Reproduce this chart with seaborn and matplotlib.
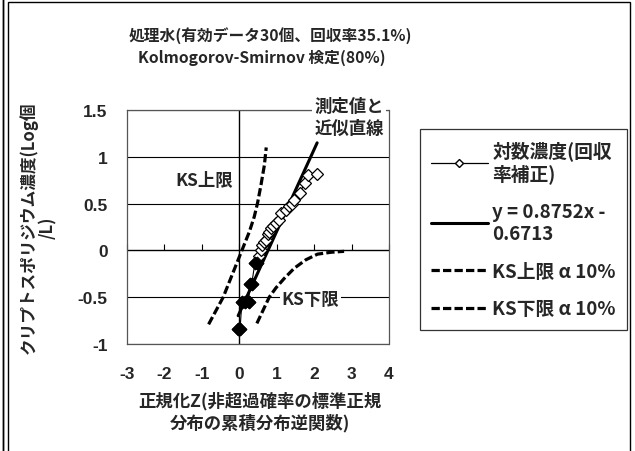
import numpy as np
import pandas as pd
import matplotlib
matplotlib.use("Agg")
import matplotlib.pyplot as plt
import seaborn as sns
from matplotlib.lines import Line2D
from matplotlib.patches import Rectangle

# ---------------- data ----------------
z_data = [-0.03, 0.00, 0.02, 0.07, 0.15, 0.25, 0.28, 0.33, 0.42, 0.47,
          0.52, 0.58, 0.62, 0.67, 0.71, 0.76, 0.80, 0.85, 0.89, 0.98,
          1.05, 1.12, 1.25, 1.34, 1.40, 1.47, 1.61, 1.75, 1.83, 2.08]
log_conc = [-0.84, -0.84, -0.84, -0.55, -0.55, -0.55, -0.36, -0.36, -0.13, -0.13,
            -0.06, 0.00, 0.06, 0.09, 0.11, 0.17, 0.20, 0.24, 0.26, 0.29,
            0.33, 0.40, 0.43, 0.47, 0.50, 0.54, 0.61, 0.72, 0.81, 0.82]
trend_slope = 0.8752
trend_intercept = -0.6713
ks_upper_z = [-0.82, -0.43, 0.07, 0.27, 0.40, 0.49, 0.58, 0.67, 0.72]
ks_upper_y = [-0.79, -0.50, 0.00, 0.20, 0.36, 0.51, 0.70, 0.91, 1.10]
ks_lower_z = [0.47, 0.80, 0.98, 1.20, 1.47, 1.78, 2.09, 2.45, 2.80]
ks_lower_y = [-0.78, -0.50, -0.40, -0.30, -0.19, -0.10, -0.04, -0.02, -0.01]
x_ticks = [-3, -2, -1, 0, 1, 2, 3, 4]
x_tick_labels = ["-3", "-2", "-1", "0", "1", "2", "3", "4"]
y_ticks = [-1, -0.5, 0, 0.5, 1, 1.5]
y_tick_labels = ["-1", "-0.5", "0", "0.5", "1", "1.5"]
legend_labels = ["対数濃度(回収\n率補正)", "y = 0.8752x -\n0.6713",
                 "KS上限 α 10%", "KS下限 α 10%"]
title_1 = "処理水(有効データ30個、回収率35.1%)"
title_2 = "Kolmogorov-Smirnov 検定(80%)"
x_label = "正規化Z(非超過確率の標準正規\n分布の累積分布逆関数)"
y_label = "クリプトスポリジウム濃度(Log個\n/L)"

# ---------------- style ----------------
sns.set_theme(style="white")
plt.rcParams["font.family"] = ["Noto Sans CJK JP", "DejaVu Sans"]
plt.rcParams["axes.unicode_minus"] = False

W, H = 635, 452
fig = plt.figure(figsize=(W / 100, H / 100), dpi=100)
fig.patch.set_facecolor("white")
ax = fig.add_axes([127 / W, 1 - 345 / H, 262 / W, 234 / H])
ax.set_facecolor("white")

df = pd.DataFrame({"z": z_data, "y": log_conc})
trend_x = np.array([min(z_data), max(z_data)])
df_trend = pd.DataFrame({"z": trend_x, "y": trend_slope * trend_x + trend_intercept})
df_up = pd.DataFrame({"z": ks_upper_z, "y": ks_upper_y})
df_lo = pd.DataFrame({"z": ks_lower_z, "y": ks_lower_y})

dash = (0, (2.6, 1.0))
# gridlines / axes
for yv in y_ticks:
    if yv != 0:
        ax.axhline(yv, color="black", lw=0.8, zorder=1)
ax.axhline(0, color="black", lw=1.0, zorder=1)
ax.axvline(0, color="black", lw=1.0, zorder=1)

sns.lineplot(data=df_up, x="z", y="y", ax=ax, color="black", lw=2.3,
             linestyle=dash, sort=False, zorder=3)
sns.lineplot(data=df_lo, x="z", y="y", ax=ax, color="black", lw=2.3,
             linestyle=dash, sort=False, zorder=3)
sns.lineplot(data=df_trend, x="z", y="y", ax=ax, color="black", lw=2.2,
             sort=False, zorder=4)
sns.lineplot(data=df, x="z", y="y", ax=ax, color="black", lw=0.8,
             sort=False, marker="D", markersize=6.3, markerfacecolor="white",
             markeredgecolor="black", markeredgewidth=0.9, zorder=5)
low = df[df["y"] < -0.1]
sns.scatterplot(data=low, x="z", y="y", ax=ax, marker="D", s=45,
                color="black", edgecolor="black", zorder=6)

ax.set_xlim(-3, 4)
ax.set_ylim(-1, 1.5)
ax.set_xticks(x_ticks)
ax.set_xticklabels(x_tick_labels)
ax.set_yticks(y_ticks)
ax.set_yticklabels(y_tick_labels)
ax.tick_params(axis="both", length=0, labelsize=12.5)
ax.tick_params(axis="y", pad=14)
ax.tick_params(axis="x", pad=16)
ax.set_xlabel("")
ax.set_ylabel("")
for lab in ax.get_xticklabels() + ax.get_yticklabels():
    lab.set_fontweight("bold")
    lab.set_fontfamily(["Liberation Sans", "DejaVu Sans"])
    lab.set_fontsize(12.5)

# small tick marks on the y=0 axis line
yfrac = (0 - (-1)) / (1.5 - (-1))
sec = ax.secondary_xaxis(yfrac)
sec.set_xticks(x_ticks)
sec.tick_params(axis="x", direction="in", length=4, width=0.8, color="black",
                labeltop=False, labelbottom=False)
sec.spines[:].set_visible(False)

for sp in ax.spines.values():
    sp.set_visible(True)
    sp.set_color("#555555")
    sp.set_linewidth(0.9)
    sp.set_linestyle((0, (2, 1)))

# in-plot annotations
bb = dict(facecolor="white", edgecolor="none", pad=1.5)
ax.text(0.847, 0.97, "測定値と\n近似直線", transform=ax.transAxes, ha="center",
        va="center", fontsize=12.5, fontweight="bold", bbox=bb, clip_on=False,
        zorder=8, linespacing=1.25)
ax.text(0.294, 0.70, "KS上限", transform=ax.transAxes, ha="center", va="center",
        fontsize=12.5, fontweight="bold", zorder=8)
ax.text(0.70, 0.192, "KS下限", transform=ax.transAxes, ha="center", va="center",
        fontsize=12.5, fontweight="bold", bbox=bb, zorder=8)

# titles and labels
fig.text(270 / W, 1 - 36 / H, title_1, ha="center", va="center",
         fontsize=11.3, fontweight="bold")
fig.text(262 / W, 1 - 58 / H, title_2, ha="center", va="center",
         fontsize=11.3, fontweight="bold")
fig.text(260 / W, 1 - 412 / H, x_label, ha="center", va="center",
         fontsize=12.5, fontweight="bold", multialignment="center",
         linespacing=1.25)
fig.text(38 / W, 1 - 228 / H, y_label, ha="center", va="center", rotation=90,
         fontsize=12, fontweight="bold", multialignment="center",
         linespacing=1.05)

# legend
handles = [
    Line2D([], [], color="black", lw=0.9, marker="D", markersize=4,
           markerfacecolor="white", markeredgecolor="black"),
    Line2D([], [], color="black", lw=2.2),
    Line2D([], [], color="black", lw=2.3, linestyle=dash),
    Line2D([], [], color="black", lw=2.3, linestyle=dash),
]
leg = fig.legend(handles, legend_labels, loc="upper left",
                 bbox_to_anchor=(420 / W, 1 - 130 / H),
                 bbox_transform=fig.transFigure, frameon=True, fancybox=False,
                 edgecolor="black", fontsize=13.5, handlelength=3.0,
                 handletextpad=0.25, labelspacing=1.0, borderpad=0.6,
                 borderaxespad=0)
leg.get_frame().set_linewidth(0.9)
for t in leg.get_texts():
    t.set_fontweight("bold")

# outer chart frame
fig.patches.append(Rectangle((8 / W, -0.02), 622 / W, 1.0 - 3 / H + 0.02,
                             transform=fig.transFigure, fill=False,
                             edgecolor="black", lw=1.0))
fig.patches.append(Rectangle((3 / W, -0.02), 0.0, 1.03,
                             transform=fig.transFigure, fill=False,
                             edgecolor="black", lw=1.0))

fig.savefig("out.png", dpi=100, facecolor="white")
